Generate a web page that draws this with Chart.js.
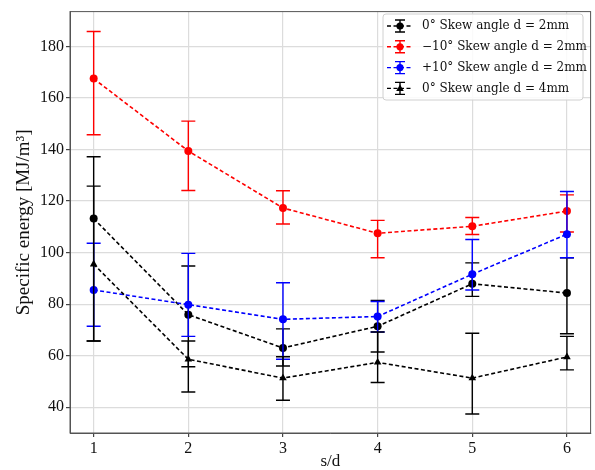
<!DOCTYPE html>
<html lang="en">
<head>
    <meta charset="UTF-8">
    <title>Specific energy vs s/d</title>
    <script src="https://cdn.jsdelivr.net/npm/chart.js"></script>
    <style>
        body { margin: 0; background: #fff; }
    </style>
</head>
<body>
    <canvas id="myChart" width="595" height="470"></canvas>

    <script>
        const sd = [1, 2, 3, 4, 5, 6];
        const xTicks = [1, 2, 3, 4, 5, 6];
        const yTicks = [40, 60, 80, 100, 120, 140, 160, 180];

        // 0° skew, d = 2mm
        const skew0d2 = [113.2, 75.9, 63.0, 71.4, 87.9, 84.3];
        const skew0d2Lo = [65.7, 55.7, 56.0, 61.4, 83.0, 68.5];
        const skew0d2Hi = [137.2, 94.8, 70.4, 81.4, 96.0, 98.0];

        // -10° skew, d = 2mm
        const skewM10 = [167.5, 139.4, 117.3, 107.5, 110.2, 116.1];
        const skewM10Lo = [145.7, 124.1, 111.1, 98.0, 107.0, 108.0];
        const skewM10Hi = [185.8, 151.0, 124.0, 112.5, 113.6, 122.4];

        // +10° skew, d = 2mm
        const skewP10 = [85.5, 79.8, 74.1, 75.2, 91.6, 107.1];
        const skewP10Lo = [71.4, 67.5, 58.6, 69.2, 85.5, 98.0];
        const skewP10Hi = [103.6, 99.7, 88.3, 81.0, 105.1, 123.7];

        // 0° skew, d = 4mm
        const skew0d4 = [95.5, 58.6, 51.3, 57.4, 51.3, 59.5];
        const skew0d4Lo = [65.7, 45.9, 42.7, 49.6, 37.4, 54.5];
        const skew0d4Hi = [125.8, 65.7, 59.6, 69.2, 68.7, 67.5];

        const labels = [
            '0\u00b0 Skew angle d = 2mm',
            '\u221210\u00b0 Skew angle d = 2mm',
            '+10\u00b0 Skew angle d = 2mm',
            '0\u00b0 Skew angle d = 4mm'
        ];

        function pts(ys) {
            return sd.map((x, i) => ({ x: x, y: ys[i] }));
        }

        function series(label, ys, lo, hi, color, style, order) {
            return {
                label: label,
                data: pts(ys),
                errLo: lo,
                errHi: hi,
                borderColor: color,
                backgroundColor: color,
                borderWidth: 1.6,
                borderDash: [4, 2.5],
                pointStyle: style,
                pointRadius: style === 'triangle' ? 4.4 : 4,
                pointBorderWidth: 0,
                tension: 0,
                order: order
            };
        }

        // error bars, drawn under each dataset's line
        const errorBars = {
            id: 'errorBars',
            beforeDatasetDraw(chart, args) {
                const ds = chart.data.datasets[args.index];
                const xs = chart.scales.x, ys = chart.scales.y;
                const c = chart.ctx;
                c.save();
                c.strokeStyle = ds.borderColor;
                c.lineWidth = 1.4;
                ds.data.forEach((p, i) => {
                    const px = xs.getPixelForValue(p.x);
                    const yLo = ys.getPixelForValue(ds.errLo[i]);
                    const yHi = ys.getPixelForValue(ds.errHi[i]);
                    c.beginPath();
                    c.moveTo(px, yLo); c.lineTo(px, yHi);
                    c.moveTo(px - 7, yLo); c.lineTo(px + 7, yLo);
                    c.moveTo(px - 7, yHi); c.lineTo(px + 7, yHi);
                    c.stroke();
                });
                c.restore();
            }
        };

        // frame around plot + matplotlib-like legend
        const frameAndLegend = {
            id: 'frameAndLegend',
            afterDraw(chart) {
                const c = chart.ctx;
                const a = chart.chartArea;
                c.save();
                c.strokeStyle = '#555';
                c.lineWidth = 1;
                c.strokeRect(a.left, a.top, a.right - a.left, a.bottom - a.top);

                const bx = 383, by = 14, bw = 200, bh = 86;
                c.beginPath();
                c.roundRect(bx, by, bw, bh, 3);
                c.fillStyle = 'rgba(255,255,255,0.85)';
                c.fill();
                c.strokeStyle = '#d0d0d0';
                c.stroke();

                chart.data.datasets.forEach((ds, i) => {
                    const y = 26 + i * 20.8;
                    const cx = 400;
                    c.strokeStyle = ds.borderColor;
                    c.lineWidth = 1.4;
                    c.setLineDash([4, 2.5]);
                    c.beginPath();
                    c.moveTo(387, y); c.lineTo(413, y);
                    c.stroke();
                    c.setLineDash([]);
                    c.beginPath();
                    c.moveTo(cx, y - 6); c.lineTo(cx, y + 6);
                    c.moveTo(cx - 5, y - 6); c.lineTo(cx + 5, y - 6);
                    c.moveTo(cx - 5, y + 6); c.lineTo(cx + 5, y + 6);
                    c.stroke();
                    c.fillStyle = ds.borderColor;
                    c.beginPath();
                    if (ds.pointStyle === 'triangle') {
                        c.moveTo(cx, y - 4); c.lineTo(cx + 3.8, y + 2.5); c.lineTo(cx - 3.8, y + 2.5);
                        c.closePath();
                    } else {
                        c.arc(cx, y, 3.6, 0, Math.PI * 2);
                    }
                    c.fill();
                    c.fillStyle = '#111';
                    c.font = '12px "DejaVu Serif"';
                    c.textBaseline = 'middle';
                    c.textAlign = 'left';
                    c.fillText(ds.label, 422, y);
                });
                c.restore();
            }
        };

        const ctx = document.getElementById('myChart').getContext('2d');

        new Chart(ctx, {
            type: 'line',
            data: {
                datasets: [
                    series(labels[0], skew0d2, skew0d2Lo, skew0d2Hi, '#000000', 'circle', 3),
                    series(labels[1], skewM10, skewM10Lo, skewM10Hi, '#ff0000', 'circle', 2),
                    series(labels[2], skewP10, skewP10Lo, skewP10Hi, '#0000ff', 'circle', 1),
                    series(labels[3], skew0d4, skew0d4Lo, skew0d4Hi, '#000000', 'triangle', 0)
                ]
            },
            options: {
                responsive: false,
                animation: false,
                layout: { padding: { top: 8, right: 2, left: 0, bottom: 0 } },
                plugins: {
                    legend: { display: false },
                    tooltip: { enabled: false }
                },
                scales: {
                    x: {
                        type: 'linear',
                        min: 0.75,
                        max: 6.25,
                        afterBuildTicks: (s) => { s.ticks = xTicks.map(v => ({ value: v })); },
                        afterFit: (s) => { s.height = 37; },
                        grid: { color: '#dcdcdc', lineWidth: 1.2, tickLength: 4, tickColor: '#444' },
                        border: { color: '#555', width: 1 },
                        ticks: {
                            color: '#111',
                            padding: 2,
                            maxRotation: 0,
                            font: { family: '"Liberation Serif"', size: 16 }
                        },
                        title: {
                            display: true,
                            text: 's/d',
                            color: '#111',
                            padding: 0,
                            font: { family: '"Liberation Serif"', size: 17, lineHeight: 1 }
                        }
                    },
                    y: {
                        min: 30,
                        max: 193.5,
                        afterBuildTicks: (s) => { s.ticks = yTicks.map(v => ({ value: v })); },
                        afterFit: (s) => { s.width = 70; },
                        grid: { color: '#dcdcdc', lineWidth: 1.2, tickLength: 4, tickColor: '#444' },
                        border: { color: '#555', width: 1 },
                        ticks: {
                            color: '#111',
                            padding: 2,
                            font: { family: '"Liberation Serif"', size: 16 }
                        },
                        title: {
                            display: true,
                            text: 'Specific energy [MJ/m\u00b3]',
                            color: '#111',
                            padding: { top: 15, bottom: 0 },
                            font: { family: '"Liberation Serif"', size: 19, lineHeight: 1 }
                        }
                    }
                }
            },
            plugins: [errorBars, frameAndLegend]
        });
    </script>
</body>
</html>
